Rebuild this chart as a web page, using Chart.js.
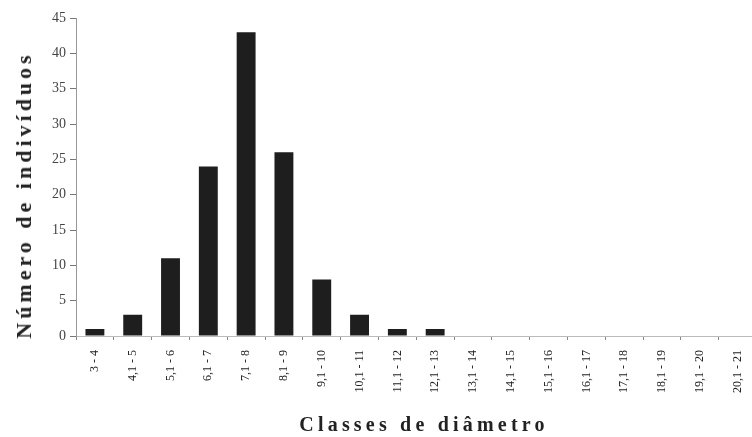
<!DOCTYPE html>
<html>
<head>
<meta charset="utf-8">
<script src="https://cdn.jsdelivr.net/npm/chart.js@4.4.1/dist/chart.umd.min.js"></script>
<style>
  html, body { margin: 0; padding: 0; background: #fff; overflow: hidden; }
  #wrap { position: relative; width: 752px; height: 437px; overflow: hidden; }
  #wrap canvas { position: absolute; left: 0; top: 0; }
  .axis-title {
    position: absolute;
    font-family: "Liberation Serif", "Times New Roman", serif;
    font-weight: bold;
    color: #222;
    white-space: nowrap;
  }
  #ytitle {
    font-size: 22px;
    letter-spacing: 4px;
    left: 24px; top: 195px;
    transform: translate(-50%, -50%) rotate(-90deg);
  }
  #xtitle {
    font-size: 20px;
    letter-spacing: 4.2px;
    left: 424px; top: 424px;
    transform: translate(-50%, -50%);
  }
</style>
</head>
<body>
<div id="wrap">
  <canvas id="chart" width="762" height="437"></canvas>
  <div id="ytitle" class="axis-title">Número de indivíduos</div>
  <div id="xtitle" class="axis-title">Classes de diâmetro</div>
</div>
<script>
// Diameter classes (cm) and number of individuals in each class
const diameterClasses = [
  "3 - 4", "4,1 - 5", "5,1 - 6", "6,1 - 7", "7,1 - 8", "8,1 - 9",
  "9,1 - 10", "10,1 - 11", "11,1 - 12", "12,1 - 13", "13,1 - 14", "14,1 - 15",
  "15,1 - 16", "16,1 - 17", "17,1 - 18", "18,1 - 19", "19,1 - 20", "20,1 - 21"
];
const individuals = [1, 3, 11, 24, 43, 26, 8, 3, 1, 1, 0, 0, 0, 0, 0, 0, 0, 0];
const yTicks = { min: 0, max: 45, step: 5 };

const serif = "'Liberation Serif', 'Times New Roman', serif";

new Chart(document.getElementById('chart'), {
  type: 'bar',
  data: {
    labels: diameterClasses,
    datasets: [{
      data: individuals,
      backgroundColor: '#1e1e1e',
      borderWidth: 0,
      barPercentage: 0.5,
      categoryPercentage: 1.0
    }]
  },
  options: {
    responsive: false,
    animation: false,
    layout: { padding: { top: 18, left: 0, right: 0, bottom: 0 } },
    plugins: { legend: { display: false }, tooltip: { enabled: false } },
    scales: {
      x: {
        grid: { display: true, drawOnChartArea: false, tickLength: 4, color: '#888', lineWidth: 1 },
        border: { display: true, color: '#bbb', dash: [3, 4] },
        ticks: {
          autoSkip: false, maxRotation: 90, minRotation: 90,
          font: { family: serif, size: 12 }, color: '#222', padding: 10
        },
        afterFit: s => { s.height = 101; }
      },
      y: {
        min: yTicks.min, max: yTicks.max,
        grid: { display: true, drawOnChartArea: false, tickLength: 6, color: '#777', lineWidth: 1 },
        border: { display: true, color: '#999', dash: [2, 3] },
        ticks: {
          stepSize: yTicks.step,
          font: { family: serif, size: 14 }, color: '#444', padding: 4
        },
        afterFit: s => { s.width = 76; }
      }
    }
  }
});
</script>
</body>
</html>
